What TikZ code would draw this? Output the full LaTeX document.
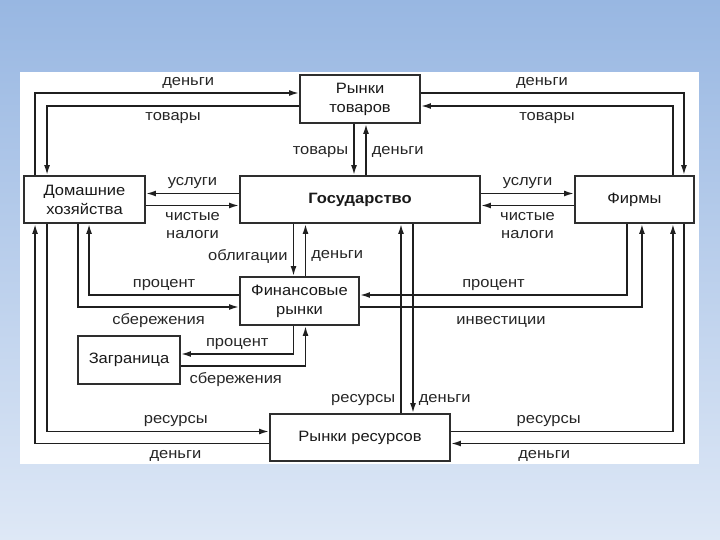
\documentclass[tikz,border=0pt]{standalone}
\usepackage{fontspec}
\setmainfont{Liberation Sans}[FakeStretch=1.1]
\usepackage{tikz}
\usetikzlibrary{arrows.meta,positioning}
\colorlet{ecline}{black!88}
\colorlet{ecbox}{black!82}
\colorlet{ectext}{black!85}
\definecolor{ecsky}{RGB}{152,183,226}
\definecolor{ecpale}{RGB}{222,232,246}
\tikzset{
  ecstage/.style={
    draw=ecbox,
    line width=1.9pt,
    fill=white,
    align=center,
    inner sep=0pt,
    text=black!90,
    font=\fontsize{15}{19}\selectfont
  },
  ecagent/.style={ecstage,minimum width=120pt,minimum height=47pt},
  ecmarket/.style={ecstage,minimum height=48pt},
  ecflow/.style={-{Latex[length=10pt,width=6pt]},line width=1.7pt,draw=ecline},
  eclabel/.style={font=\fontsize{15}{18}\selectfont,text=ectext,align=center,inner sep=2pt}
}
\begin{document}
\begin{tikzpicture}[x=1pt,y=-1pt]
  \useasboundingbox (0,0) rectangle (720,540);
  \shade[top color=ecsky,bottom color=ecpale] (0,0) rectangle (720,540);
  \fill[white] (20,72) rectangle (699,464);

  % sectors and markets
  \node[ecmarket,minimum width=120pt] (goods) at (360,99) {Рынки\\товаров};
  \node[ecagent,minimum width=121pt] (homes) at (84.5,199.5) {Домашние\\хозяйства};
  \node[ecagent,minimum width=240pt,font=\fontsize{15}{19}\selectfont\bfseries] (state) at (360,199.5) {Государство};
  \node[ecagent,minimum width=119pt] (firms) at (634.5,199.5) {Фирмы};
  \node[ecmarket,minimum width=119pt] (finance) at (299.5,301) {Финансовые\\рынки};
  \node[ecmarket,minimum width=102pt] (abroad) at (129,360) {Заграница};
  \node[ecagent,minimum width=180pt] (factors) at (360,437.5) {Рынки ресурсов};

  % goods market
  \draw[ecflow] ([xshift=12pt]homes.north west) |- node[eclabel,pos=0.79,above=2pt] {деньги} ([yshift=6pt]goods.west);
  \draw[ecflow] ([yshift=-7pt]goods.west) -| node[eclabel,pos=0.25,below=4pt] {товары} ([xshift=24pt]homes.north west);
  \draw[ecflow] ([yshift=6pt]goods.east) -| node[eclabel,pos=0.23,above=2pt] {деньги} ([xshift=-11pt]firms.north east);
  \draw[ecflow] ([xshift=-22pt]firms.north east) |- node[eclabel,pos=0.75,below=4pt] {товары} ([yshift=-7pt]goods.east);
  \draw[ecflow] ([xshift=-6pt]goods.south) -- node[eclabel,pos=0.55,left=3pt] {товары} ([xshift=-6pt]state.north);
  \draw[ecflow] ([xshift=6pt]state.north) -- node[eclabel,pos=0.45,right=3pt] {деньги} ([xshift=6pt]goods.south);

  % state
  \draw[ecflow] ([yshift=6pt]state.west) -- node[eclabel,above=2pt] {услуги} ([yshift=6pt]homes.east);
  \draw[ecflow] ([yshift=-6pt]homes.east) -- node[eclabel,below=4pt] {чистые\\налоги} ([yshift=-6pt]state.west);
  \draw[ecflow] ([yshift=6pt]state.east) -- node[eclabel,above=2pt] {услуги} ([yshift=6pt]firms.west);
  \draw[ecflow] ([yshift=-6pt]firms.west) -- node[eclabel,below=4pt] {чистые\\налоги} ([yshift=-6pt]state.east);

  % financial markets
  \draw[ecflow] ([xshift=-6pt]finance.north |- state.south) -- node[eclabel,pos=0.62,left=3pt] {облигации} ([xshift=-6pt]finance.north);
  \draw[ecflow] ([xshift=6pt]finance.north) -- node[eclabel,pos=0.38,right=3pt] {деньги} ([xshift=6pt]finance.north |- state.south);
  \draw[ecflow] ([yshift=6pt]finance.west) -| node[eclabel,pos=0.25,above=2pt] {процент} ([xshift=66pt]homes.south west);
  \draw[ecflow] ([xshift=55pt]homes.south west) |- node[eclabel,pos=0.75,below=4pt] {сбережения} ([yshift=-6pt]finance.west);
  \draw[ecflow] ([xshift=53pt]firms.south west) |- node[eclabel,pos=0.75,above=2pt] {процент} ([yshift=6pt]finance.east);
  \draw[ecflow] ([yshift=-6pt]finance.east) -| node[eclabel,pos=0.25,below=7pt] {инвестиции} ([xshift=-53pt]firms.south east);
  \draw[ecflow] ([xshift=-6pt]finance.south) |- node[eclabel,pos=0.75,above=2pt] {процент} ([yshift=6pt]abroad.east);
  \draw[ecflow] ([yshift=-6pt]abroad.east) -| node[eclabel,pos=0.22,below=4pt] {сбережения} ([xshift=6pt]finance.south);

  % resource market
  \draw[ecflow] ([xshift=41pt]factors.north) -- node[eclabel,pos=0.07,left=3pt] {ресурсы} ([xshift=41pt]state.south);
  \draw[ecflow] ([xshift=53pt]state.south) -- node[eclabel,pos=0.93,right=3pt] {деньги} ([xshift=53pt]factors.north);
  \draw[ecflow] ([xshift=24pt]homes.south west) |- node[eclabel,pos=0.79,above=2pt] {ресурсы} ([yshift=6pt]factors.west);
  \draw[ecflow] ([yshift=-6pt]factors.west) -| node[eclabel,pos=0.2,below=4pt] {деньги} ([xshift=12pt]homes.south west);
  \draw[ecflow] ([yshift=6pt]factors.east) -| node[eclabel,pos=0.22,above=2pt] {ресурсы} ([xshift=-22pt]firms.south east);
  \draw[ecflow] ([xshift=-11pt]firms.south east) |- node[eclabel,pos=0.8,below=4pt] {деньги} ([yshift=-6pt]factors.east);
\end{tikzpicture}
\end{document}
